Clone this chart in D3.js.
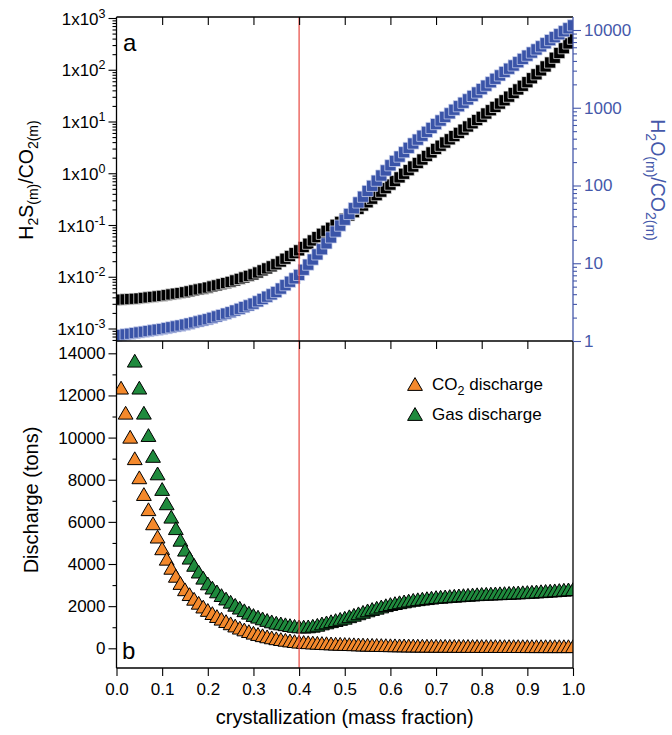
<!DOCTYPE html>
<html><head><meta charset="utf-8">
<script src="https://cdn.jsdelivr.net/npm/d3@7"></script>
<style>
html,body{margin:0;padding:0;background:#fff;}
svg{display:block;font-family:"Liberation Sans",Arial,Helvetica,sans-serif;}
</style></head>
<body><svg id="chart" width="672" height="735"></svg>
<script>
// ---------- DATA ----------
const crystallization = [0.00,0.01,0.02,0.03,0.04,0.05,0.06,0.07,0.08,0.09,
0.10,0.11,0.12,0.13,0.14,0.15,0.16,0.17,0.18,0.19,
0.20,0.21,0.22,0.23,0.24,0.25,0.26,0.27,0.28,0.29,
0.30,0.31,0.32,0.33,0.34,0.35,0.36,0.37,0.38,0.39,
0.40,0.41,0.42,0.43,0.44,0.45,0.46,0.47,0.48,0.49,
0.50,0.51,0.52,0.53,0.54,0.55,0.56,0.57,0.58,0.59,
0.60,0.61,0.62,0.63,0.64,0.65,0.66,0.67,0.68,0.69,
0.70,0.71,0.72,0.73,0.74,0.75,0.76,0.77,0.78,0.79,
0.80,0.81,0.82,0.83,0.84,0.85,0.86,0.87,0.88,0.89,
0.90,0.91,0.92,0.93,0.94,0.95,0.96,0.97,0.98,0.99,1.00];

const h2sCo2 = [0.00355,0.00360,0.00365,0.00370,0.00375,0.00380,0.00389,0.00398,0.00407,0.00417,
0.00427,0.00441,0.00455,0.00470,0.00485,0.00501,0.00522,0.00545,0.00568,0.00592,
0.00617,0.00649,0.00682,0.00718,0.00755,0.00794,0.00849,0.00908,0.00970,0.0104,
0.0111,0.0121,0.0133,0.0145,0.0159,0.0174,0.0197,0.0223,0.0252,0.0286,
0.0324,0.0375,0.0435,0.0504,0.0583,0.0676,0.0773,0.0883,0.101,0.115,
0.132,0.153,0.177,0.205,0.238,0.275,0.322,0.377,0.441,0.515,
0.603,0.708,0.832,0.977,1.148,1.349,1.578,1.845,2.158,2.523,
2.951,3.404,3.926,4.529,5.224,6.026,6.95,8.017,9.247,10.67,
12.30,14.26,16.52,19.14,22.18,25.70,30.20,35.48,41.69,48.98,
57.54,68.55,81.66,97.27,115.9,138.0,170.6,210.9,260.6,322.1,398.1];

const h2oCo2 = [1.169,1.192,1.216,1.240,1.264,1.288,1.315,1.341,1.369,1.397,
1.426,1.463,1.501,1.540,1.580,1.622,1.675,1.730,1.786,1.845,
1.905,1.986,2.070,2.158,2.249,2.344,2.466,2.594,2.729,2.871,
3.020,3.236,3.467,3.715,3.981,4.266,4.721,5.224,5.781,6.397,
7.079,8.241,9.594,11.17,13.00,15.14,18.03,21.48,25.59,30.48,
36.31,43.05,51.05,60.53,71.78,85.11,99.08,115.3,134.3,156.3,
182.0,207.0,235.5,267.9,304.8,346.7,389.0,436.5,489.8,549.5,
616.6,685.5,762.1,847.2,941.9,1047,1159,1282,1419,1570,
1738,1923,2128,2355,2606,2884,3177,3499,3855,4246,
4677,5129,5623,6166,6761,7413,8091,8831,9638,10520,11482];

// CO2 discharge: crystallization 0.01 .. 1.00
const co2Discharge = [12370,11180,10040,9020,8115,7320,6600,5930,5300,4745,
4250,3820,3440,3100,2800,2570,2350,2160,1980,1820,
1670,1530,1405,1290,1185,1080,980,895,815,740,
677,620,567,519,475,437,403,371,342,315,
300,287,274,262,250,240,230,221,213,205,
198,191,184,177,171,165,159,154,149,145,
142,139,136,133,130,127,125,122,120,118,
117,116,115,114,113,112,111,110,109,108,
107,107,106,106,105,104,104,103,103,102,
102,101,101,101,100,100,100,100,100,100];

// Gas discharge: crystallization 0.04 .. 1.00
const gasDischarge = [13650,12370,11180,10120,9130,8300,7560,6880,6245,5700,
5150,4680,4300,3960,3640,3350,3080,2880,2700,2525,
2360,2210,2065,1930,1805,1690,1580,1500,1420,1345,
1278,1215,1180,1140,1100,1065,1040,1030,1040,1070,
1115,1180,1230,1285,1340,1395,1450,1520,1590,1660,
1730,1800,1865,1925,1985,2045,2100,2145,2185,2225,
2265,2300,2328,2355,2380,2405,2430,2446,2462,2478,
2494,2510,2524,2538,2552,2566,2580,2588,2596,2604,
2612,2620,2630,2640,2650,2660,2670,2683,2696,2709,
2722,2735,2750,2765,2780,2795,2810];

const xTickValues = [0,0.1,0.2,0.3,0.4,0.5,0.6,0.7,0.8,0.9,1.0];
const xTickLabels = ["0.0","0.1","0.2","0.3","0.4","0.5","0.6","0.7","0.8","0.9","1.0"];
const leftLogTicks = [1e-3,1e-2,1e-1,1e0,1e1,1e2,1e3];
const leftLogExponents = ["-3","-2","-1","0","1","2","3"];
const rightLogTicks = [1,10,100,1000,10000];
const rightLogLabels = ["1","10","100","1000","10000"];
const dischargeTicks = [0,2000,4000,6000,8000,10000,12000,14000];
const dischargeMinor = [1000,3000,5000,7000,9000,11000,13000];
const markerLine = 0.4;

// ---------- LAYOUT ----------
const L = 116.5, R = 573;
const topY0 = 17, topY1 = 341, botY0 = 341, botY1 = 668;
const blue = "#3a54a8", blueAxis = "#4558aa";
const orange = "#f4892c", green = "#1f8a3d";
const red = "#e8473f";

const svg = d3.select("#chart");
const x = d3.scaleLinear().domain([0,1]).range([L,R]);
const yL = d3.scaleLog().domain([1e-3,1e3]).range([328.5,18]);
const yR = d3.scaleLog().domain([1,1e4]).range([341,30]);
const yB = d3.scaleLinear().domain([0,14000]).range([648.3,353.3]);

svg.append("defs").append("clipPath").attr("id","clipx")
  .append("rect").attr("x",L).attr("y",0).attr("width",R-L).attr("height",735);

const triType = { draw(ctx, size){ const w=7.4,h=6.4; ctx.moveTo(0,-h); ctx.lineTo(w,h); ctx.lineTo(-w,h); ctx.closePath(); } };
const sqType = { draw(ctx, size){ const s=5.6; ctx.moveTo(-s,-s); ctx.lineTo(s,-s); ctx.lineTo(s,s); ctx.lineTo(-s,s); ctx.closePath(); } };
const triPath = d3.symbol().type(triType)();
const sqPath = d3.symbol().type(sqType)();

// ---------- TOP PANEL MARKERS ----------
const gTop = svg.append("g").attr("clip-path","url(#clipx)");
gTop.selectAll("path.h2s").data(crystallization.map((c,i)=>[c,h2sCo2[i]])).join("path")
  .attr("class","h2s").attr("d",sqPath)
  .attr("transform",d=>`translate(${x(d[0])},${yL(d[1])})`)
  .attr("fill","#000").attr("stroke","#f0f0f0").attr("stroke-width",0.7);
gTop.selectAll("path.h2o").data(crystallization.map((c,i)=>[c,h2oCo2[i]])).join("path")
  .attr("class","h2o").attr("d",sqPath)
  .attr("transform",d=>`translate(${x(d[0])},${yR(d[1])})`)
  .attr("fill",blue).attr("stroke","#d4daf2").attr("stroke-width",0.7);

// ---------- BOTTOM PANEL MARKERS ----------
const gBot = svg.append("g").attr("clip-path","url(#clipx)");
const co2X = crystallization.slice(1);
const gasX = crystallization.slice(4);
gBot.selectAll("path.co2").data(co2X.map((c,i)=>[c,co2Discharge[i]])).join("path")
  .attr("class","co2").attr("d",triPath)
  .attr("transform",d=>`translate(${x(d[0])},${yB(d[1])})`)
  .attr("fill",orange).attr("stroke","#000").attr("stroke-width",1);
gBot.selectAll("path.gas").data(gasX.map((c,i)=>[c,gasDischarge[i]])).join("path")
  .attr("class","gas").attr("d",triPath)
  .attr("transform",d=>`translate(${x(d[0])},${yB(d[1])})`)
  .attr("fill",green).attr("stroke","#000").attr("stroke-width",1);

// red vertical line
svg.append("line").attr("x1",x(markerLine)).attr("x2",x(markerLine))
  .attr("y1",topY0).attr("y2",botY1).attr("stroke",red).attr("stroke-width",1.2);

// ---------- FRAMES ----------
const frame = svg.append("g").attr("fill","none").attr("stroke","#000").attr("stroke-width",1.3);
frame.append("line").attr("x1",L).attr("x2",R).attr("y1",topY0).attr("y2",topY0);
frame.append("line").attr("x1",L).attr("x2",R).attr("y1",topY1).attr("y2",topY1);
frame.append("line").attr("x1",L).attr("x2",R).attr("y1",botY1).attr("y2",botY1);
frame.append("line").attr("x1",L).attr("x2",L).attr("y1",topY0).attr("y2",botY1);
frame.append("line").attr("x1",R).attr("x2",R).attr("y1",botY0).attr("y2",botY1);
svg.append("line").attr("x1",R).attr("x2",R).attr("y1",topY0).attr("y2",topY1)
  .attr("stroke",blueAxis).attr("stroke-width",1.3);

// ---------- AXES ----------
const fs = 17;
function styleAxis(g, color){
  g.select(".domain").remove();
  g.selectAll(".tick line").attr("stroke",color).attr("stroke-width",1.1);
  g.selectAll(".tick text").attr("fill",color).style("font-size",fs+"px").style("font-family","'Liberation Sans',Arial,sans-serif");
}
const gx = svg.append("g").attr("transform",`translate(0,${botY1})`)
  .call(d3.axisBottom(x).tickValues(xTickValues).tickFormat((d,i)=>xTickLabels[i]).tickSize(8).tickPadding(7));
styleAxis(gx,"#000");
[topY0, botY0].forEach(yy=>{
  const g = svg.append("g").attr("transform",`translate(0,${yy})`)
    .call(d3.axisBottom(x).tickValues(xTickValues.slice(1,-1)).tickFormat("").tickSize(8));
  styleAxis(g,"#000");
});

// left log axis (top)
const minorL = [];
for (let e=-4;e<3;e++) for (let m=2;m<10;m++){ const v=m*Math.pow(10,e); if (yL(v)<=topY1 && yL(v)>=topY0) minorL.push(v); }
const gLm = svg.append("g").attr("transform",`translate(${L},0)`)
  .call(d3.axisLeft(yL).tickValues(minorL).tickFormat("").tickSize(4));
styleAxis(gLm,"#000");
const gL = svg.append("g").attr("transform",`translate(${L},0)`)
  .call(d3.axisLeft(yL).tickValues(leftLogTicks).tickFormat("").tickSize(8));
styleAxis(gL,"#000");
gL.selectAll(".tick").each(function(d,i){
  const t = d3.select(this).append("text").attr("x",-11).attr("y",6).attr("text-anchor","end")
    .attr("fill","#000").style("font-size",fs+"px");
  t.append("tspan").text("1x10");
  t.append("tspan").attr("dy",-7).style("font-size","12.5px").text(leftLogExponents[i]);
});

// right log axis (blue)
const minorR = [];
for (let e=0;e<5;e++) for (let m=2;m<10;m++){ const v=m*Math.pow(10,e); if (yR(v)>=topY0) minorR.push(v); }
const gRm = svg.append("g").attr("transform",`translate(${R},0)`)
  .call(d3.axisRight(yR).tickValues(minorR).tickFormat("").tickSize(4));
styleAxis(gRm,blueAxis);
const gR = svg.append("g").attr("transform",`translate(${R},0)`)
  .call(d3.axisRight(yR).tickValues(rightLogTicks).tickFormat((d,i)=>rightLogLabels[i]).tickSize(8).tickPadding(3));
styleAxis(gR,blueAxis);

// bottom-left discharge axis
const gBm = svg.append("g").attr("transform",`translate(${L},0)`)
  .call(d3.axisLeft(yB).tickValues(dischargeMinor).tickFormat("").tickSize(4));
styleAxis(gBm,"#000");
const gB = svg.append("g").attr("transform",`translate(${L},0)`)
  .call(d3.axisLeft(yB).tickValues(dischargeTicks).tickFormat(d3.format("d")).tickSize(8).tickPadding(3));
styleAxis(gB,"#000");

// ---------- TITLES ----------
const tfs = 19.5, sfs = 14;
function subTitle(sel, parts, color){
  let prevSub = false;
  parts.forEach(([t,sub])=>{
    const ts = sel.append("tspan").text(t);
    if (sub && !prevSub){ ts.attr("dy",5).style("font-size",sfs+"px"); }
    else if (sub) { ts.style("font-size",sfs+"px"); }
    else if (!sub && prevSub){ ts.attr("dy",-5); }
    prevSub = sub;
  });
  sel.attr("fill",color);
}
const t1 = svg.append("text").attr("transform","translate(33,180) rotate(-90)").attr("text-anchor","middle").style("font-size",tfs+"px");
subTitle(t1,[["H",0],["2",1],["S",0],["(m)",1],["/CO",0],["2(m)",1]],"#000");
const t2 = svg.append("text").attr("transform","translate(651,180) rotate(90)").attr("text-anchor","middle").style("font-size",tfs+"px");
subTitle(t2,[["H",0],["2",1],["O",0],["(m)",1],["/CO",0],["2(m)",1]],blueAxis);
svg.append("text").attr("transform","translate(38,500) rotate(-90)").attr("text-anchor","middle")
  .style("font-size","20px").attr("fill","#000").text("Discharge (tons)");
svg.append("text").attr("x",(L+R)/2).attr("y",724).attr("text-anchor","middle")
  .style("font-size","20px").attr("fill","#000").text("crystallization (mass fraction)");

// panel labels
svg.append("text").attr("x",123).attr("y",51).style("font-size","24px").text("a");
svg.append("text").attr("x",122).attr("y",659).style("font-size","24px").text("b");

// ---------- LEGEND ----------
const legend = [["CO",orange,true],["Gas discharge",green,false]];
legend.forEach(([lab,col,isCo2],i)=>{
  const cy = 384 + i*30;
  svg.append("path").attr("d",triPath).attr("transform",`translate(415,${cy})`)
    .attr("fill",col).attr("stroke","#000").attr("stroke-width",1);
  const t = svg.append("text").attr("x",432).attr("y",cy+6).style("font-size","17px").attr("fill","#000");
  if (isCo2){
    t.append("tspan").text("CO");
    t.append("tspan").attr("dy",5).style("font-size","12.5px").text("2");
    t.append("tspan").attr("dy",-5).text(" discharge");
  } else t.text(lab);
});
</script></body></html>
